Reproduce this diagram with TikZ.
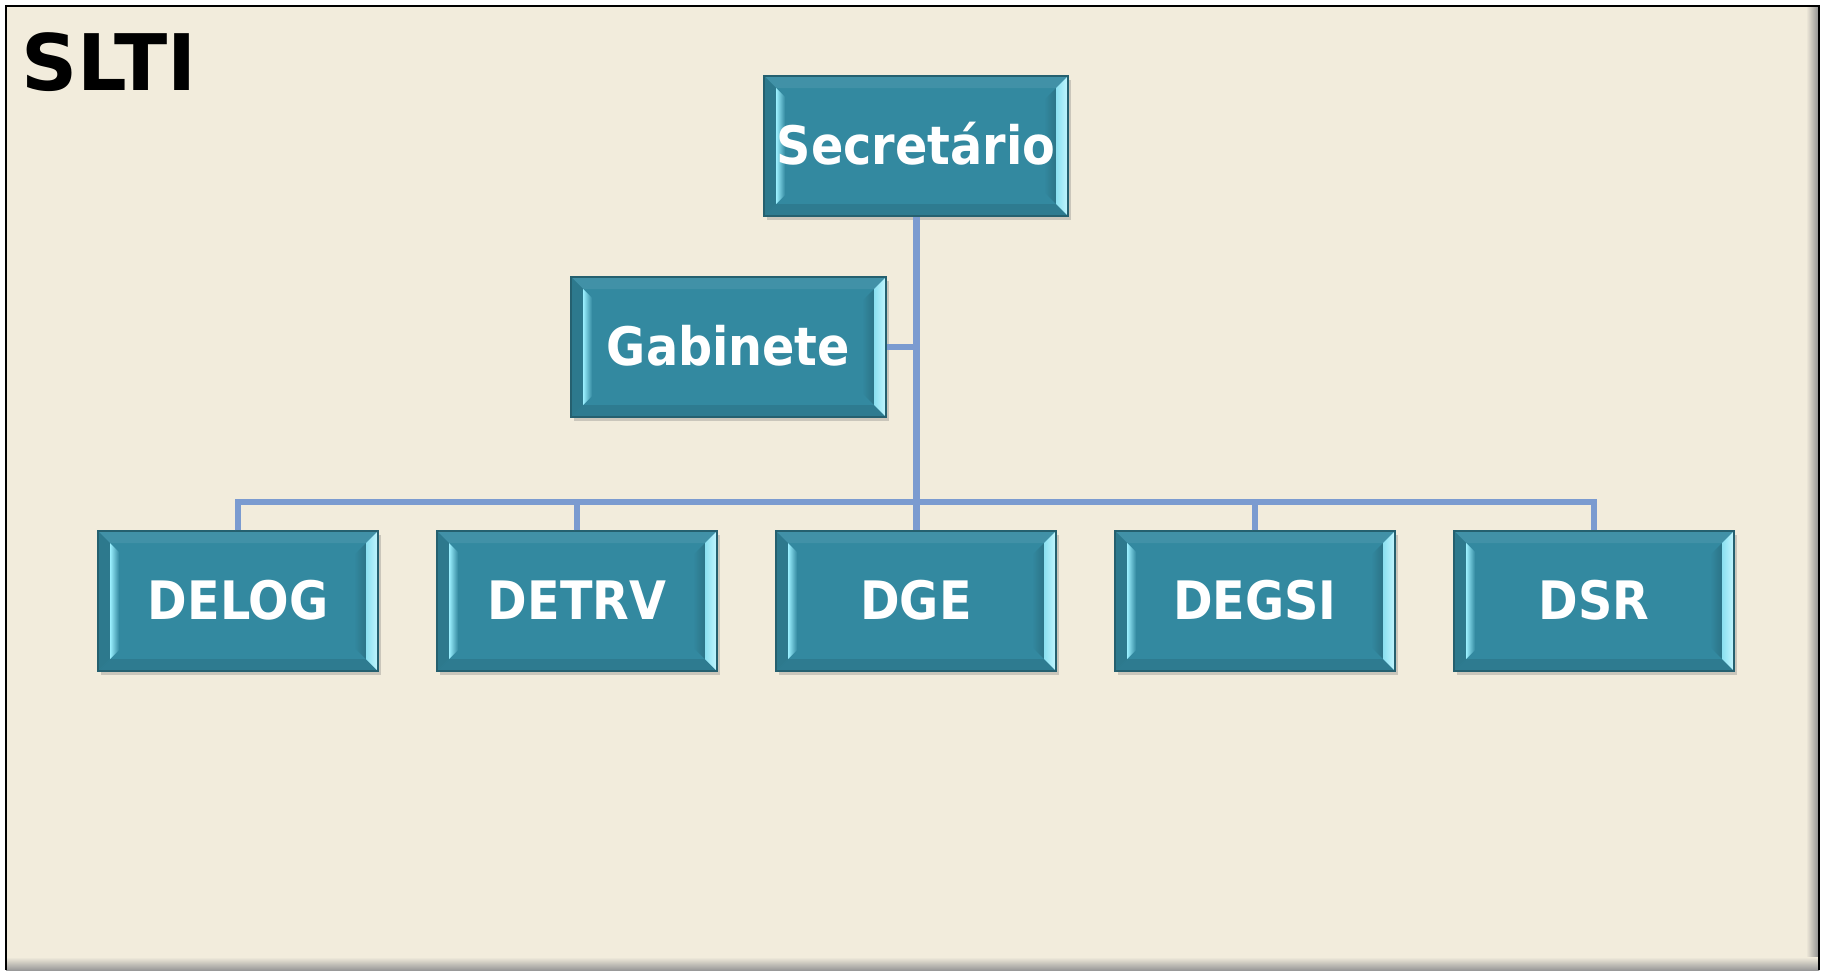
\documentclass[tikz,border=0pt]{standalone}
\usepackage{fontspec}
\setmainfont{DejaVu Sans Condensed}
\newfontfamily\titlefont{DejaVu Sans}
\usetikzlibrary{shadows}
\definecolor{bgc}{HTML}{F2ECDC}
\definecolor{face}{HTML}{3389A0}
\definecolor{edgec}{HTML}{25606F}
\definecolor{wirec}{HTML}{7B9BD0}
\definecolor{lite}{HTML}{9BF0FF}
\tikzset{
  orgbox/.style={draw=edgec, line width=1.5pt, fill=face,
    minimum width=280pt, minimum height=140pt, inner sep=0pt,
    font=\fontsize{53}{60}\selectfont\bfseries, text=white,
    text height=37pt, text depth=0pt,
    drop shadow={shadow xshift=3pt, shadow yshift=-4pt, opacity=0.35},
    path picture={
      % top bevel
      \fill[face!93!white] (path picture bounding box.north west) -- (path picture bounding box.north east)
        -- ([xshift=-12pt,yshift=-12pt]path picture bounding box.north east)
        -- ([xshift=12pt,yshift=-12pt]path picture bounding box.north west) -- cycle;
      % bottom bevel
      \fill[face!90!black] (path picture bounding box.south west) -- (path picture bounding box.south east)
        -- ([xshift=-12pt,yshift=12pt]path picture bounding box.south east)
        -- ([xshift=12pt,yshift=12pt]path picture bounding box.south west) -- cycle;
      % left bevel, outer part
      \fill[face!88!black] (path picture bounding box.south west)
        -- ([xshift=12pt,yshift=12pt]path picture bounding box.south west)
        -- ([xshift=12pt,yshift=-12pt]path picture bounding box.north west)
        -- (path picture bounding box.north west) -- cycle;
      % left bevel, light strip
      \shade[left color=lite, right color=face] ([xshift=12pt,yshift=12pt]path picture bounding box.south west)
        -- ([xshift=21pt,yshift=21pt]path picture bounding box.south west)
        -- ([xshift=21pt,yshift=-21pt]path picture bounding box.north west)
        -- ([xshift=12pt,yshift=-12pt]path picture bounding box.north west) -- cycle;
      % right, darker strip
      \shade[left color=face, right color=face!84!black] ([xshift=-12pt,yshift=12pt]path picture bounding box.south east)
        -- ([xshift=-24pt,yshift=24pt]path picture bounding box.south east)
        -- ([xshift=-24pt,yshift=-24pt]path picture bounding box.north east)
        -- ([xshift=-12pt,yshift=-12pt]path picture bounding box.north east) -- cycle;
      % right bevel, light
      \shade[left color=lite!85!face, right color=lite!60!white] (path picture bounding box.south east)
        -- ([xshift=-12pt,yshift=12pt]path picture bounding box.south east)
        -- ([xshift=-12pt,yshift=-12pt]path picture bounding box.north east)
        -- (path picture bounding box.north east) -- cycle;
    }},
  wire/.style={draw=wirec, line width=6pt}
}
\begin{document}
\begin{tikzpicture}[x=1pt,y=-1pt]
\useasboundingbox (0,0) rectangle (1825,970);
% frame
\fill[white] (0,0) rectangle (1825,970);
\fill[bgc] (6,6) rectangle (1819,970);
\shade[left color=bgc, right color=black!45] (1806,6) rectangle (1819,970);
\shade[top color=bgc, bottom color=black!40] (6,957) rectangle (1819,970);
\draw[line width=2.5pt] (6,970) -- (6,6) -- (1819,6) -- (1819,970);
% title
\node[anchor=base west, font=\titlefont\fontsize{78}{80}\selectfont\bfseries, inner sep=0pt] (title) at (21,90) {SLTI};
% boxes
\node[orgbox, minimum width=304pt] (sec) at (916,146) {Secretário};
\node[orgbox, minimum width=315pt] (gab) at (728.5,347) {Gabinete};
\node[orgbox] (delog) at (238,601) {DELOG};
\node[orgbox] (detrv) at (577,601) {DETRV};
\node[orgbox] (dge) at (916,601) {DGE};
\node[orgbox] (degsi) at (1255,601) {DEGSI};
\node[orgbox] (dsr) at (1594,601) {DSR};
\coordinate (bus) at (916,502);
% connectors
\draw[wire, line width=7pt] (sec.south) -- (dge.north);
\draw[wire] (gab.east) -- (gab.east -| sec.south);
\draw[wire] (delog.north) |- (dsr.north |- bus) -- (dsr.north);
\draw[wire] (detrv.north) -- (detrv.north |- bus);
\draw[wire] (degsi.north) -- (degsi.north |- bus);
\end{tikzpicture}
\end{document}
